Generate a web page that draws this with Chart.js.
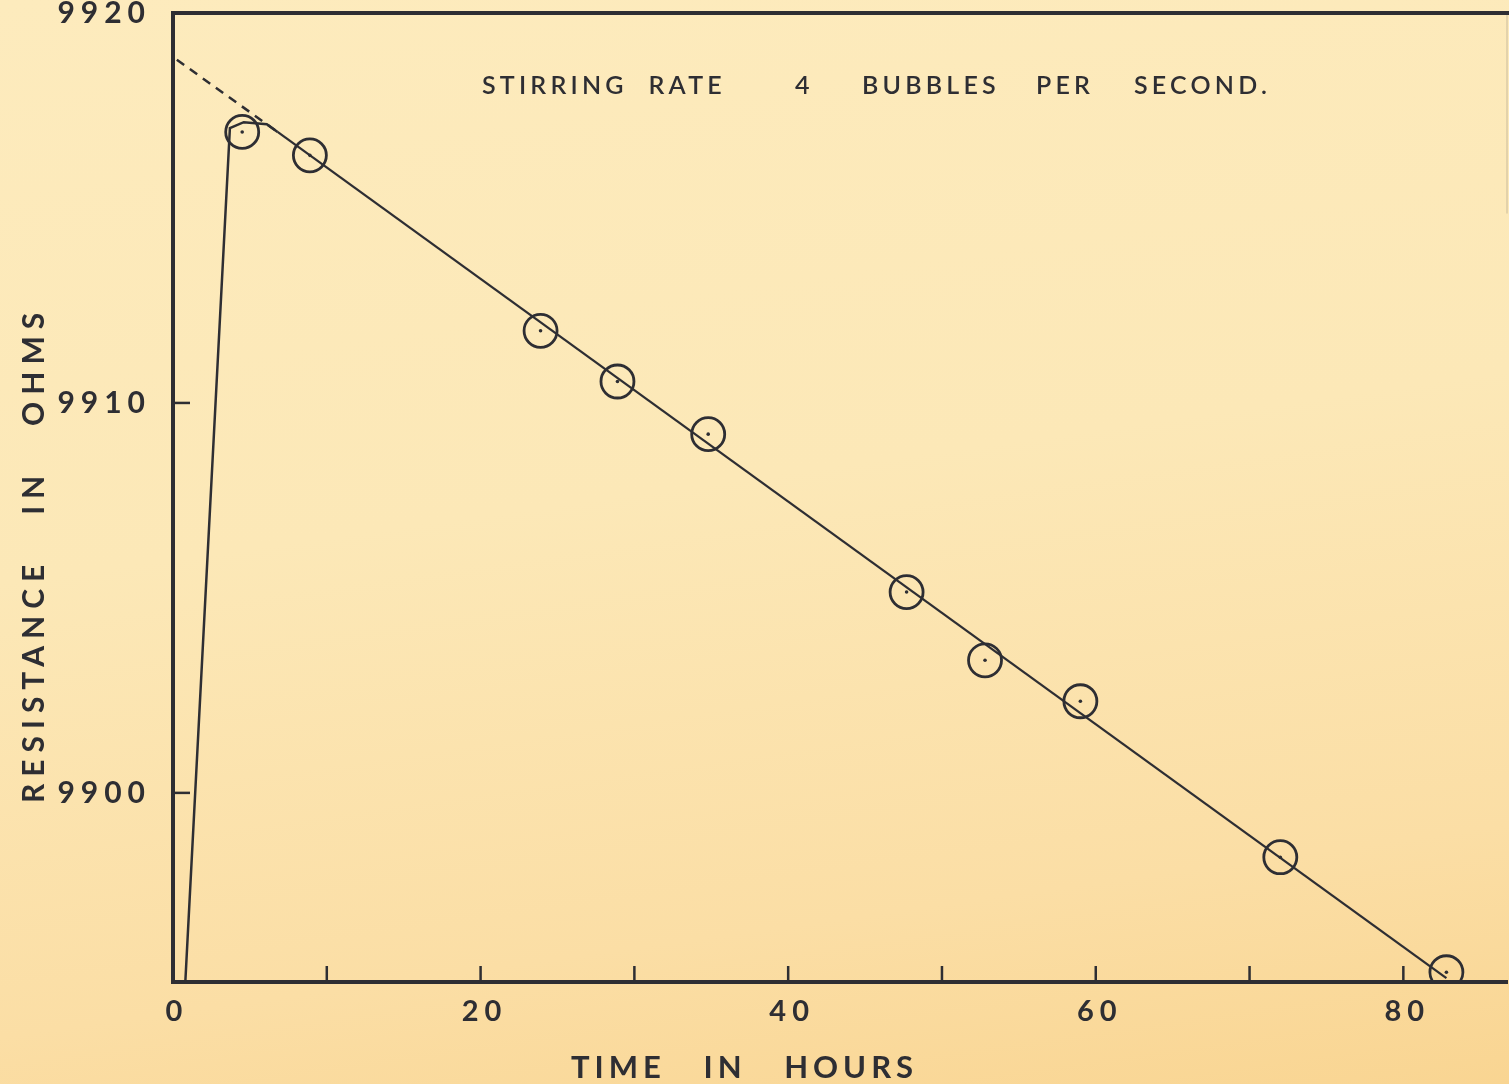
<!DOCTYPE html>
<html>
<head>
<meta charset="utf-8">
<script src="https://cdn.jsdelivr.net/npm/chart.js@4"></script>
<style>
  html, body { margin: 0; padding: 0; }
  body {
    width: 1509px; height: 1084px; overflow: hidden;
    background: linear-gradient(172deg, #fdebbd 0%, #fce8b7 45%, #fbdea5 80%, #f9d592 100%);
  }
  canvas { display: block; }
</style>
</head>
<body>
<canvas id="resistance" width="1509" height="1084"></canvas>
<script>
"use strict";

// measured points (hours, ohms)
var hours = [4.5, 8.9, 23.9, 28.9, 34.8, 47.7, 52.8, 59.0, 72.0, 82.8];
var ohms = [9916.95, 9916.35, 9911.85, 9910.55, 9909.2, 9905.15, 9903.4, 9902.35, 9898.35, 9895.4];

// initial rise, hand drawn into the straight line
var riseHours = [0.8, 3.7, 4.6, 6.1, 6.8];
var riseOhms = [9895.15, 9917.05, 9917.2, 9917.15, 9916.95];

// straight line through the points
var fitHours = [6.8, 82.8];
var fitOhms = [9916.95, 9895.25];

// dashed extrapolation back to zero time
var dashHours = [0.25, 6.8];
var dashOhms = [9918.8, 9916.95];

var xMin = 0, xMax = 86.74, xStep = 10, xLabelEvery = 20;
var yMin = 9895.15, yMax = 9920, yStep = 10;

var ink = '#2e2e33';
var fontName = 'Lato, "DejaVu Sans", sans-serif';

function pairs(xs, ys) {
    var out = [];
    for (var i = 0; i < xs.length; i++) {
        out.push({ x: xs[i], y: ys[i] });
    }
    return out;
}

function noPadding(scale) {
    scale.paddingTop = 0;
    scale.paddingBottom = 0;
    scale.paddingLeft = 0;
    scale.paddingRight = 0;
}

var spacingPlugin = {
    id: 'spacing',
    beforeUpdate: function (chart) {
        chart.ctx.letterSpacing = '6px';
    }
};

var framePlugin = {
    id: 'frame',
    afterDraw: function (chart) {
        var ctx = chart.ctx;
        var a = chart.chartArea;
        var xs = chart.scales.x, ys = chart.scales.y;
        ctx.save();
        ctx.strokeStyle = ink;
        ctx.lineCap = 'square';

        // top edge
        ctx.lineWidth = 4;
        ctx.beginPath();
        ctx.moveTo(a.left, a.top);
        ctx.lineTo(a.right + 5, a.top);
        ctx.stroke();

        // faint right edge
        ctx.lineWidth = 1;
        ctx.strokeStyle = 'rgba(60,60,70,0.25)';
        ctx.beginPath();
        ctx.moveTo(a.right, a.top);
        ctx.lineTo(a.right, a.top + 200);
        ctx.stroke();

        // inward tick marks
        ctx.strokeStyle = ink;
        ctx.lineWidth = 2.5;
        ctx.lineCap = 'butt';
        xs.ticks.forEach(function (t) {
            if (t.value <= xMin) return;
            var px = xs.getPixelForValue(t.value);
            ctx.beginPath();
            ctx.moveTo(px, a.bottom);
            ctx.lineTo(px, a.bottom - 16);
            ctx.stroke();
        });
        ys.ticks.forEach(function (t) {
            if (t.value >= yMax) return;
            var py = ys.getPixelForValue(t.value);
            ctx.beginPath();
            ctx.moveTo(a.left, py);
            ctx.lineTo(a.left + 17, py);
            ctx.stroke();
        });

        // texts
        ctx.fillStyle = ink;
        ctx.textBaseline = 'alphabetic';
        ctx.textAlign = 'left';

        ctx.font = 'bold 31px ' + fontName;
        ctx.letterSpacing = '5px';
        ctx.fillText('TIME   IN   HOURS', 571, 1078);

        ctx.font = '600 25px ' + fontName;
        ctx.letterSpacing = '4.2px';
        ctx.fillText('STIRRING  RATE', 482, 94);
        ctx.fillText('4', 795, 94);
        ctx.fillText('BUBBLES', 862, 94);
        ctx.fillText('PER', 1036, 94);
        ctx.fillText('SECOND.', 1134, 94);

        ctx.translate(44, 803);
        ctx.rotate(-Math.PI / 2);
        ctx.font = 'bold 30px ' + fontName;
        ctx.letterSpacing = '7px';
        ctx.fillText('RESISTANCE   IN   OHMS', 0, 0);
        ctx.restore();
    }
};

var ctx = document.getElementById('resistance');

var chart = new Chart(ctx, {
    type: 'scatter',
    data: {
        datasets: [
            {
                label: 'rise',
                data: pairs(riseHours, riseOhms),
                showLine: true,
                borderColor: ink,
                borderWidth: 2.5,
                pointRadius: 0,
                tension: 0,
                order: 3
            },
            {
                label: 'fit',
                data: pairs(fitHours, fitOhms),
                showLine: true,
                borderColor: ink,
                borderWidth: 2.3,
                pointRadius: 0,
                order: 3
            },
            {
                label: 'extrapolated',
                data: pairs(dashHours, dashOhms),
                showLine: true,
                borderColor: ink,
                borderWidth: 2.5,
                borderDash: [9, 7],
                pointRadius: 0,
                order: 3
            },
            {
                label: 'readings',
                data: pairs(hours, ohms),
                pointStyle: 'circle',
                pointRadius: 16.5,
                pointBorderWidth: 2.8,
                pointBorderColor: ink,
                pointBackgroundColor: 'rgba(0,0,0,0)',
                order: 1
            },
            {
                label: 'centres',
                data: pairs(hours, ohms),
                pointRadius: 1.8,
                pointBorderWidth: 0,
                pointBackgroundColor: ink,
                order: 2
            }
        ]
    },
    options: {
        responsive: false,
        animation: false,
        events: [],
        layout: { autoPadding: false, padding: { top: 13, right: 2, left: 0, bottom: 0 } },
        plugins: {
            legend: { display: false },
            tooltip: { enabled: false }
        },
        scales: {
            x: {
                type: 'linear',
                min: xMin,
                max: xMax,
                afterFit: function (scale) { scale.height = 102; noPadding(scale); },
                grid: { display: false, drawTicks: false },
                border: { display: true, color: ink, width: 4 },
                ticks: {
                    stepSize: xStep,
                    includeBounds: false,
                    autoSkip: false,
                    maxRotation: 0,
                    padding: 0,
                    labelOffset: 4,
                    color: ink,
                    font: { family: fontName, size: 29, weight: 'bold', lineHeight: '60px' },
                    callback: function (v) { return v % xLabelEvery === 0 ? String(v) : ''; }
                }
            },
            y: {
                type: 'linear',
                min: yMin,
                max: yMax,
                afterFit: function (scale) { scale.width = 173; noPadding(scale); },
                grid: { display: false, drawTicks: false },
                border: { display: true, color: ink, width: 4 },
                ticks: {
                    stepSize: yStep,
                    includeBounds: false,
                    padding: 22,
                    color: ink,
                    font: { family: fontName, size: 30, weight: 'bold', lineHeight: 0.85 },
                    callback: function (v) { return String(v); }
                }
            }
        }
    },
    plugins: [spacingPlugin, framePlugin]
});
</script>
</body>
</html>
